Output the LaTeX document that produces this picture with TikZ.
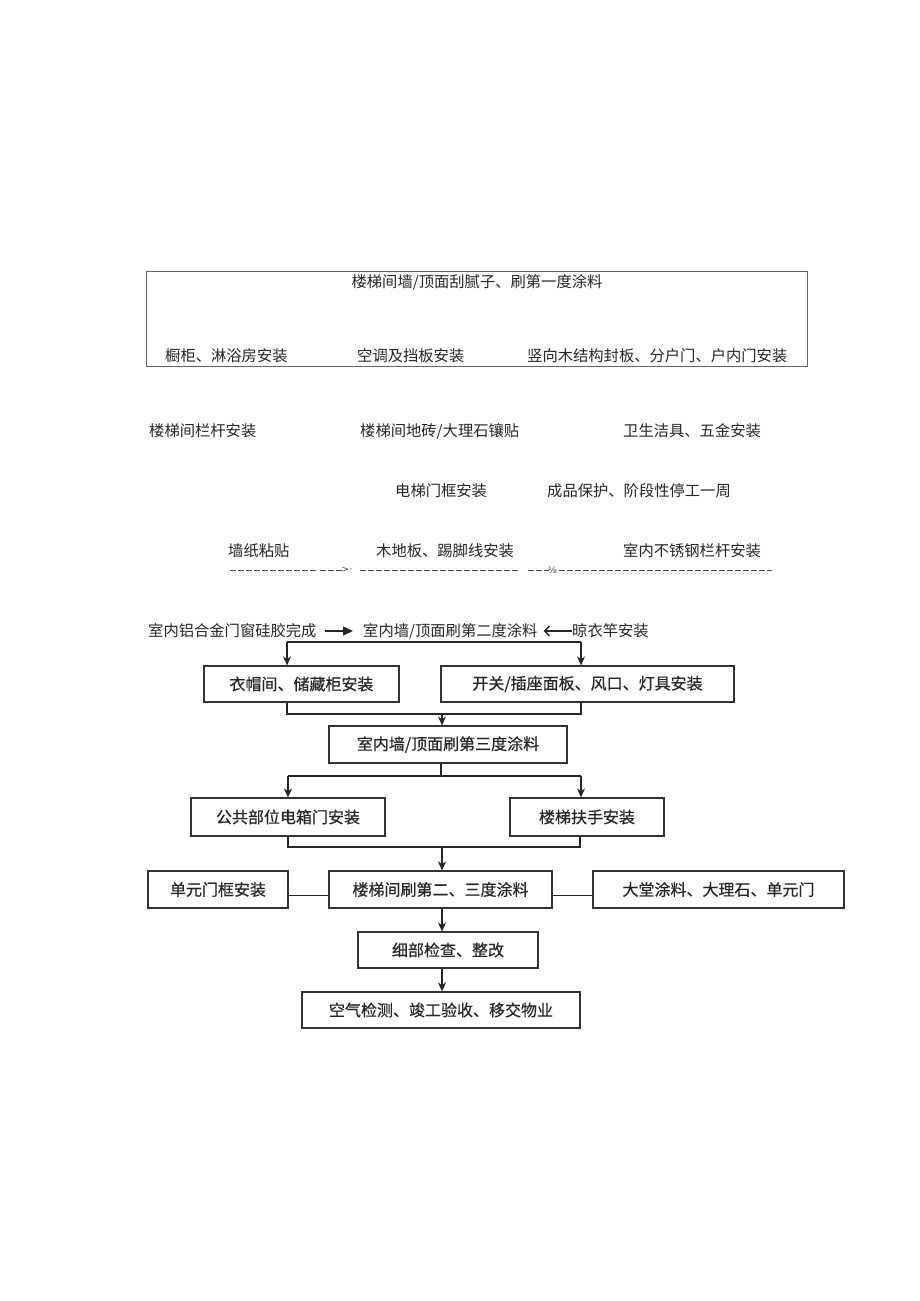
\documentclass[tikz,border=0pt]{standalone}
\usepackage{fontspec}
\setmainfont{Noto Sans CJK SC}
\newfontfamily\boxfont[FakeBold=0.4]{Noto Sans CJK SC}
\newfontfamily\symfont{DejaVu Sans}
\usetikzlibrary{arrows.meta}
\begin{document}
\begin{tikzpicture}[x=1pt,y=-1pt,
  txt/.style={inner sep=0pt, anchor=west, font=\fontsize{15.3}{16}\selectfont, text=black!85},
  ctxt/.style={txt, anchor=center},
  fbox/.style={draw=black!80, line width=1.2pt, inner sep=0pt, font=\boxfont\fontsize{16}{17}\selectfont, text=black!85},
  conn/.style={draw=black!85, line width=1.2pt},
  arr/.style={conn, -{Stealth[length=9pt,width=8pt]}},
  dline/.style={draw=black!70, line width=1pt, dash pattern=on 6pt off 2pt},
  small/.style={inner sep=0pt, font=\symfont\fontsize{9}{9}\selectfont, text=black!75},
]
\useasboundingbox (0,0) rectangle (920,1301);
\fill[white] (0,0) rectangle (920,1301);

% top frame
\node[draw=black!60, line width=0.8pt, minimum width=661pt, minimum height=95pt, inner sep=0pt] (topbox) at (476.5,318.5) {};
\node[ctxt] (t0) at (477,282) {楼梯间墙/顶面刮腻子、刷第一度涂料};
\node[txt] (t1) at (165,356) {橱柜、淋浴房安装};
\node[txt] (t2) at (357,356) {空调及挡板安装};
\node[txt] (t3) at (527,356) {竖向木结构封板、分户门、户内门安装};

% free text rows
\node[txt] (u1) at (149,431) {楼梯间栏杆安装};
\node[txt] (u2) at (360,431) {楼梯间地砖/大理石镶贴};
\node[txt] (u3) at (623,431) {卫生洁具、五金安装};
\node[txt] (v1) at (395,491) {电梯门框安装};
\node[txt] (v2) at (547,491) {成品保护、阶段性停工一周};
\node[txt] (w1) at (228,551) {墙纸粘贴};
\node[txt] (w2) at (376,551) {木地板、踢脚线安装};
\node[txt] (w3) at (623,551) {室内不锈钢栏杆安装};

% dashed row
\draw[dline] (230,570) -- (316,570);
\draw[dline] (320,570) -- (342,570);
\node[small] (dg) at (345.5,569.5) {>};
\node[small] (dd) at (351,571) {·};
\draw[dline] (360,570) -- (519,570);
\draw[dline] (528,570) -- (549,570);
\node[small] (df) at (552.5,570) {⅛};
\draw[dline] (559,570) -- (772,570);

% row with arrows
\node[txt] (r1) at (148,631) {室内铝合金门窗硅胶完成};
\node[txt] (r2) at (363,631) {室内墙/顶面刷第二度涂料};
\node[txt] (r3) at (572,631) {晾衣竿安装};
\draw[conn, line width=1.3pt, -{Triangle[length=10pt,width=9pt]}] ([xshift=8pt]r1.east) -- ([xshift=-10pt]r2.west);
\draw[conn, line width=1.3pt, {Straight Barb[length=5pt,width=10pt]}-] ([xshift=6pt]r2.east) -- (r3.west);

% flowchart boxes
\node[fbox, minimum width=195pt, minimum height=36pt] (A) at (301.5,684) {衣帽间、储藏柜安装};
\node[fbox, minimum width=293pt, minimum height=36pt] (B) at (587.5,684) {开关/插座面板、风口、灯具安装};
\node[fbox, minimum width=238pt, minimum height=37pt] (C) at (448,744.5) {室内墙/顶面刷第三度涂料};
\node[fbox, minimum width=194pt, minimum height=38pt] (D) at (288,817) {公共部位电箱门安装};
\node[fbox, minimum width=154pt, minimum height=38pt] (E) at (587,817) {楼梯扶手安装};
\node[fbox, minimum width=140pt, minimum height=37pt] (F) at (218,889.5) {单元门框安装};
\node[fbox, minimum width=223pt, minimum height=37pt] (G) at (440.5,889.5) {楼梯间刷第二、三度涂料};
\node[fbox, minimum width=251pt, minimum height=37pt] (I) at (718.5,889.5) {大堂涂料、大理石、单元门};
\node[fbox, minimum width=180pt, minimum height=36pt] (H) at (448,950) {细部检查、整改};
\node[fbox, minimum width=278pt, minimum height=36pt] (J) at (441,1010) {空气检测、竣工验收、移交物业};

% connectors
\coordinate (p1) at (287,642);
\coordinate (p2) at (581,642);
\draw[conn] (p1) -- (p2);
\draw[arr] (p1) -- (p1 |- A.north);
\draw[arr] (p2) -- (p2 |- B.north);

\coordinate (q1) at (287,714);
\coordinate (q2) at (581,714);
\coordinate (qm) at (442,714);
\draw[conn] (q1 |- A.south) -- (q1) -- (q2) -- (q2 |- B.south);
\draw[arr] (qm) -- (qm |- C.north);

\coordinate (s1) at (288,776);
\coordinate (s2) at (581,776);
\coordinate (sm) at (441,776);
\draw[conn] (sm |- C.south) -- (sm);
\draw[conn] (s1) -- (s2);
\draw[arr] (s1) -- (s1 |- D.north);
\draw[arr] (s2) -- (s2 |- E.north);

\coordinate (k1) at (288,847);
\coordinate (k2) at (580,847);
\coordinate (km) at (442,847);
\draw[conn] (k1 |- D.south) -- (k1) -- (k2) -- (k2 |- E.south);
\draw[arr] (km) -- (km |- G.north);

\draw[conn] ([yshift=-6pt]F.east) -- ([yshift=-6pt]G.west);
\draw[conn] ([yshift=-6pt]G.east) -- ([yshift=-6pt]I.west);

\coordinate (g1) at (442,908);
\draw[arr] (g1 |- G.south) -- (g1 |- H.north);
\draw[arr] (g1 |- H.south) -- (g1 |- J.north);
\end{tikzpicture}
\end{document}
